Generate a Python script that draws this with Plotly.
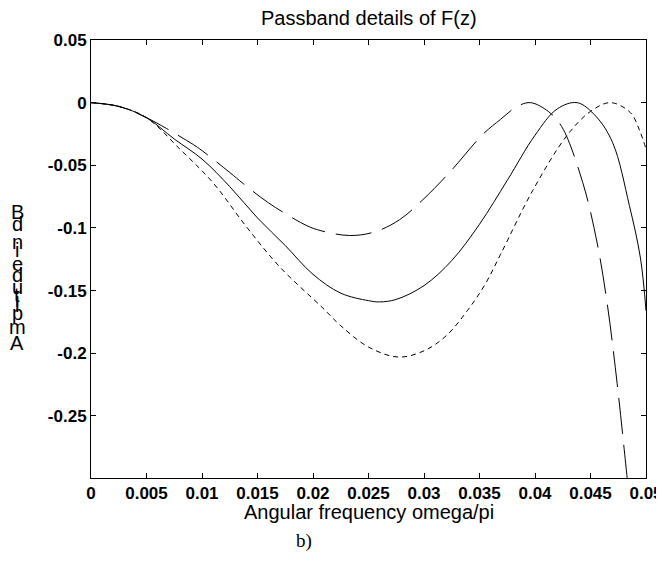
import plotly.graph_objects as go

# ---- data ----
solid_x = [0, 0.0025, 0.005, 0.0075, 0.01, 0.0125, 0.015, 0.0175, 0.02, 0.0225, 0.025, 0.026,
           0.0275, 0.03, 0.0325, 0.035, 0.0375, 0.04, 0.042, 0.0438, 0.0455, 0.047, 0.0485, 0.0495, 0.05]
solid_y = [0, -0.003, -0.012, -0.029, -0.045, -0.067, -0.092, -0.114, -0.137, -0.152, -0.158, -0.159,
           -0.157, -0.146, -0.126, -0.097, -0.062, -0.026, -0.005, 0, -0.011, -0.032, -0.082, -0.124, -0.166]

short_x = [0, 0.0025, 0.005, 0.008, 0.011, 0.014, 0.017, 0.0209, 0.0225, 0.025, 0.0277, 0.03, 0.032,
           0.0339, 0.0355, 0.0369, 0.0398, 0.0429, 0.045, 0.0468, 0.0486, 0.0495, 0.05]
short_y = [0, -0.003, -0.012, -0.037, -0.064, -0.099, -0.131, -0.164, -0.178, -0.195, -0.203, -0.198,
           -0.186, -0.166, -0.145, -0.121, -0.07, -0.026, -0.007, 0, -0.008, -0.024, -0.037]

long_x = [0, 0.0025, 0.005, 0.0068, 0.0083, 0.0096, 0.0125, 0.0137, 0.016, 0.0191, 0.0204, 0.0233,
          0.0256, 0.0278, 0.0299, 0.0323, 0.0353, 0.0369, 0.0384, 0.0396, 0.0412, 0.0424, 0.0443,
          0.0456, 0.0465, 0.0474, 0.0483, 0.0485]
long_y = [0, -0.003, -0.012, -0.0206, -0.0285, -0.0357, -0.0557, -0.0645, -0.080, -0.0966, -0.1014,
          -0.106, -0.103, -0.0934, -0.0774, -0.0557, -0.0253, -0.0133, -0.003, 0, -0.007, -0.019,
          -0.0637, -0.112, -0.160, -0.224, -0.299, -0.315]

x_tickvals = [0, 0.005, 0.01, 0.015, 0.02, 0.025, 0.03, 0.035, 0.04, 0.045, 0.05]
x_ticktext = ["0", "0.005", "0.01", "0.015", "0.02", "0.025", "0.03", "0.035", "0.04", "0.045", "0.05"]
y_tickvals = [0.05, 0, -0.05, -0.1, -0.15, -0.2, -0.25]
y_ticktext = ["0.05", "0", "-0.05", "-0.1", "-0.15", "-0.2", "-0.25"]

title_text = "Passband details of F(z)"
xlabel_text = "Angular frequency omega/pi"
ylabel_text = "Amplitude in dB"
caption_text = "b)"

FONT = "Liberation Sans, Arial, sans-serif"

fig = go.Figure()
fig.add_trace(go.Scatter(x=solid_x, y=solid_y, mode="lines", line_shape="spline",
                         line=dict(color="black", width=1, smoothing=1.0), showlegend=False))
fig.add_trace(go.Scatter(x=short_x, y=short_y, mode="lines", line_shape="spline",
                         line=dict(color="black", width=1, dash="5px,4px", smoothing=1.0), showlegend=False))
fig.add_trace(go.Scatter(x=long_x, y=long_y, mode="lines", line_shape="spline",
                         line=dict(color="black", width=1, dash="36px,11px", smoothing=1.0), showlegend=False))

# page has an 8px body margin: work in figure coordinates = screen - 8
OFF = 8
W, H = 664, 563
L, R, T, B = 91 - OFF, 646 - OFF, 40 - OFF, 478 - OFF
pw, ph = R - L, B - T

axis_common = dict(showline=True, linecolor="black", linewidth=1, mirror="ticks",
                   ticks="inside", ticklen=5, tickcolor="black", tickwidth=1,
                   showgrid=False, zeroline=False, ticklabeloverflow="allow",
                   tickfont=dict(family=FONT, size=17, color="black", weight="bold"))

fig.update_layout(
    width=W, height=H,
    margin=dict(l=L, r=W - R, t=T, b=H - B, autoexpand=False),
    paper_bgcolor="white", plot_bgcolor="white",
    xaxis=dict(range=[0, 0.05], tickvals=x_tickvals, ticktext=x_ticktext, **axis_common),
    yaxis=dict(range=[-0.2995, 0.05], tickvals=y_tickvals, ticktext=y_ticktext, **axis_common),
)

def py(ypx):
    return (B - (ypx - OFF)) / ph

def px(xpx):
    return ((xpx - OFF) - L) / pw

ann = []
ann.append(dict(text=title_text, x=0.5, y=py(18), xref="paper", yref="paper",
                xanchor="center", yanchor="middle", showarrow=False,
                font=dict(family=FONT, size=20, color="black")))
ann.append(dict(text=xlabel_text, x=0.5, y=py(512), xref="paper", yref="paper",
                xanchor="center", yanchor="middle", showarrow=False,
                font=dict(family=FONT, size=20, color="black")))
ann.append(dict(text=caption_text, x=px(304), y=py(541), xref="paper", yref="paper",
                xanchor="center", yanchor="middle", showarrow=False,
                font=dict(family="Liberation Serif, Times New Roman, serif", size=19, color="black")))

# stacked y label: glyphs placed upright along a vertical baseline (as in the reference)
adv = {"A": .667, "m": .833, "p": .556, "l": .222, "i": .222, "t": .278, "u": .556,
       "d": .556, "e": .556, " ": .278, "n": .556, "B": .667}
em = 20.7
pos = 0.0
y_bottom = 343 + 0.333 * em
for ch in ylabel_text:
    w = adv.get(ch, 0.5)
    center = pos + w / 2
    if ch != " ":
        ann.append(dict(text=ch, x=px(17), y=py(y_bottom - center * em), xref="paper", yref="paper",
                        xanchor="center", yanchor="middle", showarrow=False,
                        font=dict(family=FONT, size=20, color="black")))
    pos += w

fig.update_layout(annotations=ann)
fig.write_html("out.html")
